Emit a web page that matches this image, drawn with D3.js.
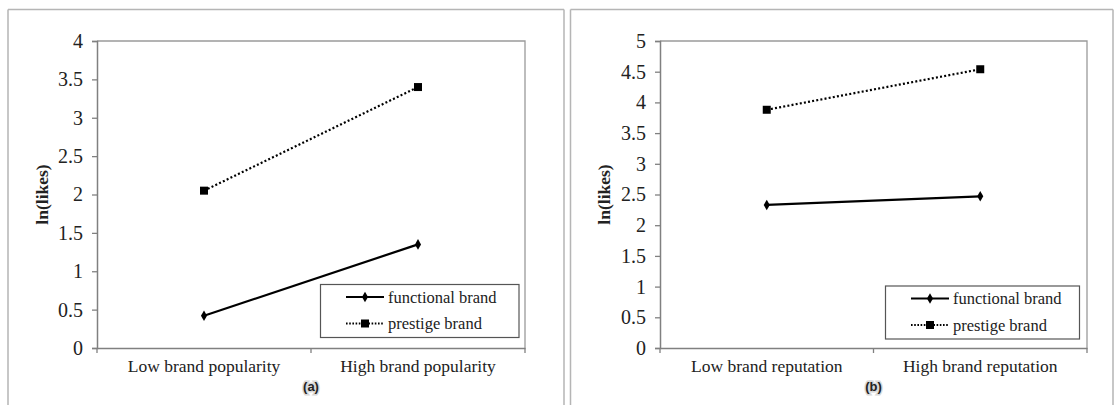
<!DOCTYPE html>
<html>
<head>
<meta charset="utf-8">
<script src="https://cdn.jsdelivr.net/npm/d3@7/dist/d3.min.js"></script>
<style>
  body { margin: 0; background: #fff; }
  svg { display: block; }
</style>
</head>
<body>
<svg id="chart" width="1118" height="405"></svg>
<script>
// ---- data ----
const categoriesA = ["Low brand popularity", "High brand popularity"];
const categoriesB = ["Low brand reputation", "High brand reputation"];
const seriesNames = ["functional brand", "prestige brand"];
const functionalA = [0.42, 1.35];
const prestigeA = [2.05, 3.40];
const functionalB = [2.33, 2.47];
const prestigeB = [3.88, 4.54];
const yTicksA = [0, 0.5, 1, 1.5, 2, 2.5, 3, 3.5, 4];
const yTicksB = [0, 0.5, 1, 1.5, 2, 2.5, 3, 3.5, 4, 4.5, 5];
const yLabel = "ln(likes)";
const panelLabels = ["(a)", "(b)"];

const SERIF = "'Liberation Serif', 'Times New Roman', serif";
const SANS = "'Liberation Sans', Arial, sans-serif";
const svg = d3.select("#chart");

// outer frames
const frameColor = "#b5b5b5";
function frame(x0, x1, drawRight) {
  svg.append("line").attr("x1", x0).attr("x2", x1).attr("y1", 9.5).attr("y2", 9.5)
    .attr("stroke", frameColor).attr("stroke-width", 1.5);
  svg.append("line").attr("x1", x0).attr("x2", x0).attr("y1", 9.5).attr("y2", 405)
    .attr("stroke", frameColor).attr("stroke-width", 1.5);
  if (drawRight) svg.append("line").attr("x1", x1).attr("x2", x1).attr("y1", 9.5).attr("y2", 405)
    .attr("stroke", frameColor).attr("stroke-width", 1.5);
}
frame(8, 564, true);
frame(570.5, 1113, true);

function drawPanel(cfg) {
  const { left, right, top, bottom, categories, functional, prestige, yTicks, yMax,
          legend, label, ylabelX } = cfg;
  const g = svg.append("g");
  const x = d3.scaleBand().domain(categories).range([left, right]).paddingInner(0).paddingOuter(0);
  const y = d3.scaleLinear().domain([0, yMax]).range([bottom, top]);
  const axisColor = "#808080";

  // plot box top & right
  g.append("path")
    .attr("d", `M${left},${top}H${right}V${bottom}`)
    .attr("fill", "none").attr("stroke", "#9a9a9a").attr("stroke-width", 1.3);

  // y axis
  const ya = g.append("g").attr("transform", `translate(${left},0)`)
    .attr("font-family", SERIF).attr("font-size", 20)
    .call(d3.axisLeft(y).tickValues(yTicks).tickSize(5).tickPadding(9).tickFormat(d3.format("")));
  ya.attr("font-family", SERIF).attr("font-size", 20);
  ya.select(".domain").attr("stroke", axisColor).attr("stroke-width", 1.5);
  ya.selectAll(".tick line").attr("stroke", axisColor).attr("stroke-width", 1.3);
  ya.selectAll(".tick text").style("font-family", SERIF)
    .style("font-size", "20px").attr("fill", "#222");

  // x axis
  const xa = g.append("g").attr("transform", `translate(0,${bottom})`)
    .call(d3.axisBottom(x).tickSize(0).tickPadding(12));
  xa.attr("font-family", SERIF).attr("font-size", 17.5);
  xa.select(".domain").attr("stroke", axisColor).attr("stroke-width", 1.5);
  xa.selectAll(".tick text").style("font-family", SERIF)
    .style("font-size", "17.5px").attr("fill", "#222");
  // boundary tick marks
  const bounds = [left, (left + right) / 2, right];
  g.selectAll(".btick").data(bounds).enter().append("line")
    .attr("x1", d => d).attr("x2", d => d).attr("y1", bottom).attr("y2", bottom + 5)
    .attr("stroke", axisColor).attr("stroke-width", 1.3);

  // y label
  g.append("text")
    .attr("transform", `translate(${ylabelX},${(top + bottom) / 2}) rotate(-90)`)
    .attr("text-anchor", "middle").attr("dominant-baseline", "middle")
    .style("font-family", SERIF).style("font-weight", "bold").style("font-size", "17.5px")
    .attr("fill", "#222").text(yLabel);

  const cx = d => x(d) + x.bandwidth() / 2;
  const line = d3.line().x(d => cx(d.c)).y(d => y(d.v));

  const fData = categories.map((c, i) => ({ c, v: functional[i] }));
  const pData = categories.map((c, i) => ({ c, v: prestige[i] }));

  g.append("path").datum(fData).attr("d", line).attr("fill", "none")
    .attr("stroke", "#000").attr("stroke-width", 2.2);
  g.append("path").datum(pData).attr("d", line).attr("fill", "none")
    .attr("stroke", "#000").attr("stroke-width", 2.2).attr("stroke-dasharray", "2,2.2");

  const diamond = d3.symbol().type(d3.symbolDiamond).size(32);
  const square = d3.symbol().type(d3.symbolSquare).size(64);
  g.selectAll(".fm").data(fData).enter().append("path")
    .attr("d", diamond).attr("transform", d => `translate(${cx(d.c)},${y(d.v)})`).attr("fill", "#000");
  g.selectAll(".pm").data(pData).enter().append("path")
    .attr("d", square).attr("transform", d => `translate(${cx(d.c)},${y(d.v)})`).attr("fill", "#000");

  // legend
  const lg = g.append("g");
  lg.append("rect").attr("x", legend.x).attr("y", legend.y).attr("width", legend.w).attr("height", legend.h)
    .attr("fill", "#fff").attr("stroke", "#555").attr("stroke-width", 1.2);
  const rows = [legend.y + 12.5, legend.y + 39];
  const sx0 = legend.x + 25.5, sx1 = legend.x + 63.5, smid = (sx0 + sx1) / 2;
  // functional
  lg.append("line").attr("x1", sx0).attr("x2", sx1).attr("y1", rows[0]).attr("y2", rows[0])
    .attr("stroke", "#000").attr("stroke-width", 2.2);
  lg.append("path").attr("d", diamond).attr("transform", `translate(${smid},${rows[0]})`).attr("fill", "#000");
  // prestige
  lg.append("line").attr("x1", sx0).attr("x2", sx1).attr("y1", rows[1]).attr("y2", rows[1])
    .attr("stroke", "#000").attr("stroke-width", 2).attr("stroke-dasharray", "1.6,1.6");
  lg.append("path").attr("d", square).attr("transform", `translate(${smid},${rows[1]})`).attr("fill", "#000");
  seriesNames.forEach((n, i) => {
    lg.append("text").attr("x", legend.x + 67.5).attr("y", rows[i])
      .attr("dominant-baseline", "central")
      .style("font-family", SERIF).style("font-size", "16.5px").attr("fill", "#222").text(n);
  });

  // panel label
  g.append("text").attr("x", (left + right) / 2).attr("y", 386)
    .attr("text-anchor", "middle").attr("dominant-baseline", "central")
    .style("font-family", SANS).style("font-weight", "bold").style("font-size", "13px")
    .attr("fill", "#222")
    .attr("stroke", "#d8d8d8").attr("stroke-width", 3).attr("paint-order", "stroke")
    .text(label);
}

drawPanel({
  left: 97, right: 525, top: 41, bottom: 348,
  categories: categoriesA, functional: functionalA, prestige: prestigeA,
  yTicks: yTicksA, yMax: 4, label: panelLabels[0], ylabelX: 44,
  legend: { x: 320.5, y: 284.5, w: 198.5, h: 53 }
});
drawPanel({
  left: 660, right: 1087, top: 41, bottom: 348,
  categories: categoriesB, functional: functionalB, prestige: prestigeB,
  yTicks: yTicksB, yMax: 5, label: panelLabels[1], ylabelX: 606,
  legend: { x: 885.5, y: 286, w: 194, h: 53 }
});
</script>
</body>
</html>
